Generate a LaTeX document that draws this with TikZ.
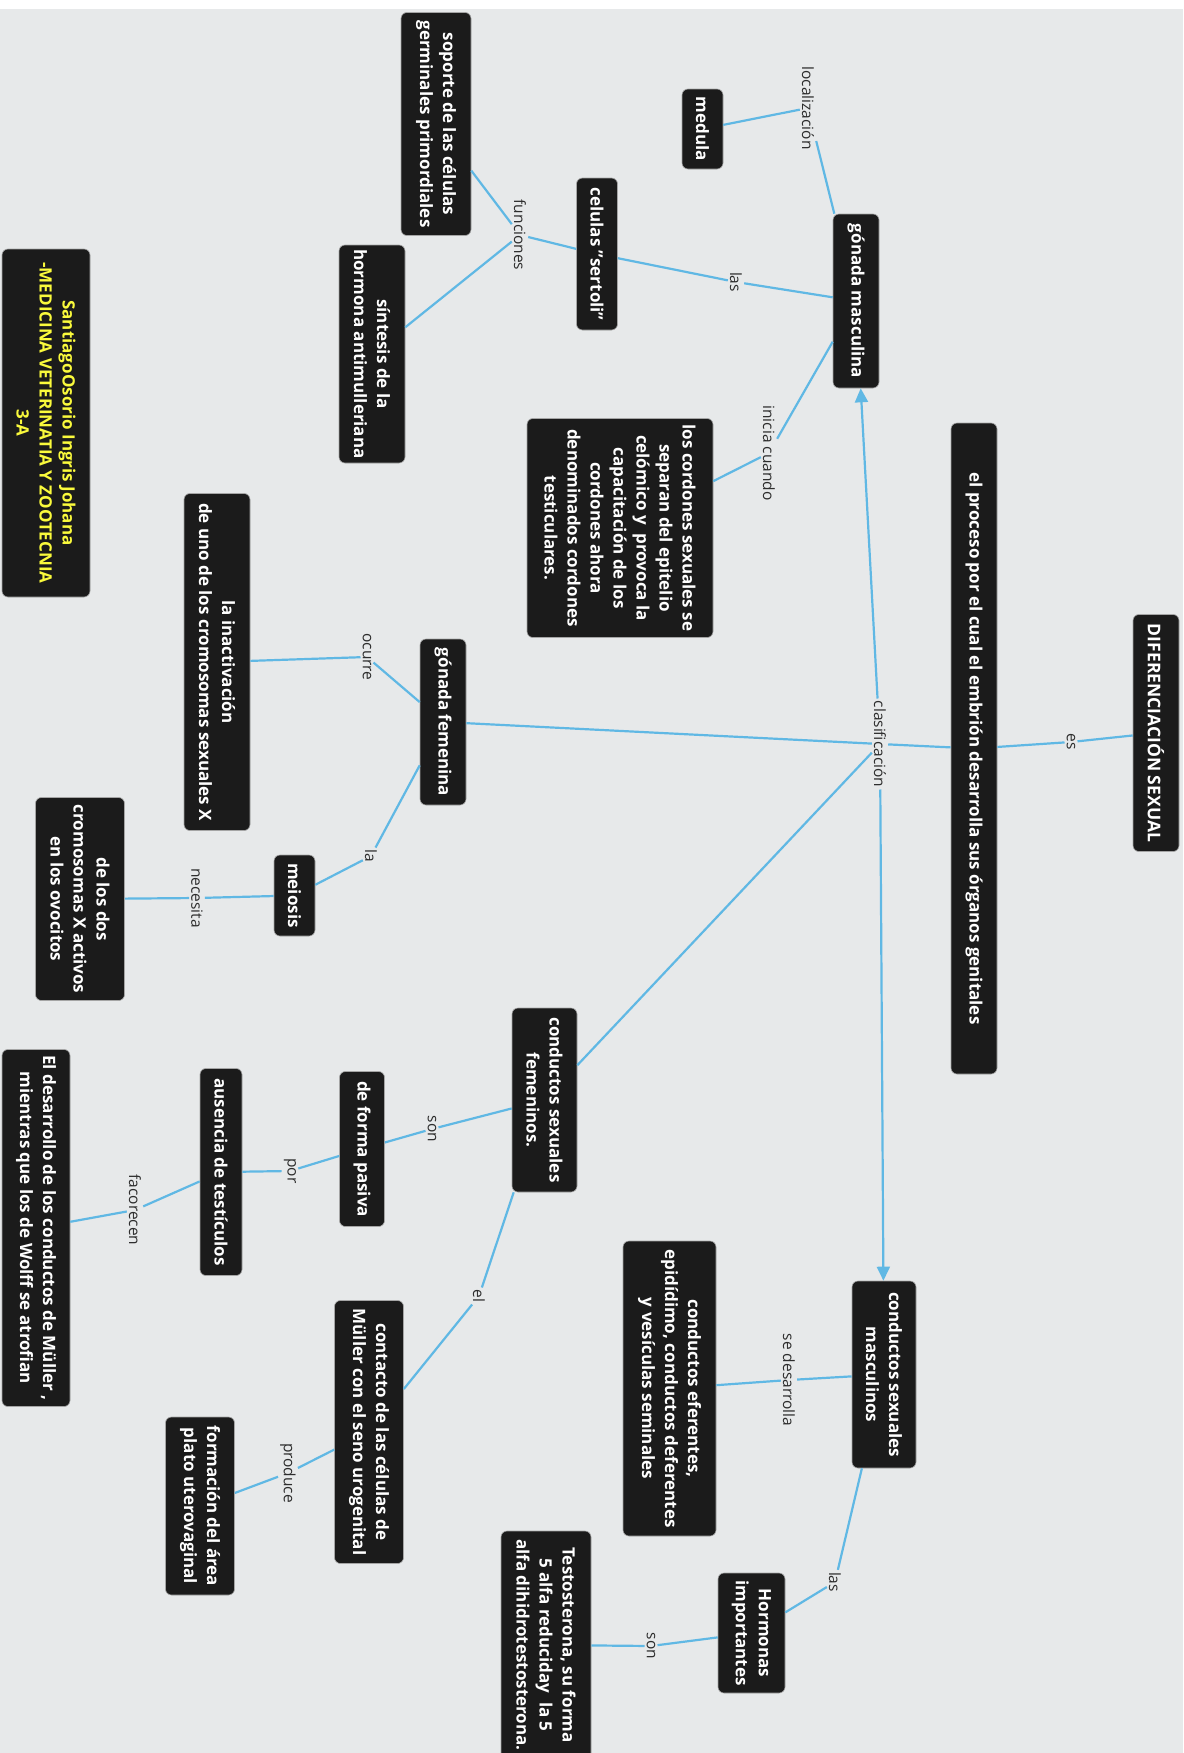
\documentclass[tikz,border=0pt]{standalone}
\usepackage{fontspec}
\setmainfont{Open Sans}
\usetikzlibrary{arrows.meta}
\definecolor{bgc}{RGB}{231,233,234}
\definecolor{nodeblk}{RGB}{27,27,27}
\definecolor{nodeedge}{RGB}{165,165,165}
\definecolor{lineblue}{RGB}{96,184,228}
\definecolor{authyellow}{RGB}{250,250,60}
\definecolor{labtext}{RGB}{45,45,45}
\newcommand{\mynodefont}{\fontsize{17}{23}\selectfont\bfseries}
\newcommand{\mylabfont}{\fontsize{15.5}{18}\selectfont}
\begin{document}
\begin{tikzpicture}[x=1pt,y=-1pt,
  box/.style={rotate=-90, fill=nodeblk, draw=nodeedge, line width=0.6pt, rounded corners=6pt,
    text=white, font=\mynodefont, align=center, inner xsep=4pt, inner ysep=3pt},
  lab/.style={rotate=-90, fill=bgc, text=labtext, font=\mylabfont, inner sep=2pt},
  ln/.style={draw=lineblue, line width=2.2pt},
  arr/.style={ln, -{Triangle[length=14pt,width=13pt]}}]
\useasboundingbox (0,0) rectangle (1183,1753);
\fill[white] (0,0) rectangle (1183,1753);
\fill[bgc] (0,9) rectangle (1183,1753);

% concept nodes
\node[box, minimum width=237pt, minimum height=46pt, font=\fontsize{17.5}{23}\selectfont\bfseries] (dif) at (1156,733) {DIFERENCIACIÓN SEXUAL};
\node[box, minimum width=651pt, minimum height=46pt] (proc) at (974,748.5) {el proceso por el cual el embrión desarrolla sus órganos genitales};
\node[box, minimum width=174pt, minimum height=46pt] (gm) at (856,301) {gónada masculina};
\node[box, minimum width=80pt, minimum height=41pt] (med) at (702.5,129) {medula};
\node[box, minimum width=152pt, minimum height=41pt] (ser) at (597,254) {celulas "sertoli"};
\node[box, minimum width=223pt, minimum height=70pt] (sop) at (436,124) {soporte de las células\\germinales primordiales};
\node[box, minimum width=218pt, minimum height=66pt] (sin) at (372,354) {síntesis de la\\hormona antimulleriana};
\node[box, minimum width=219pt, minimum height=186pt] (cor) at (620,528) {los cordones sexuales se\\separan del epitelio\\celómico y\ \ provoca la\\capacitación de los\\cordones ahora\\denominados cordones\\testiculares.};
\node[box, minimum width=166pt, minimum height=46pt] (gf) at (443,722) {gónada femenina};
\node[box, minimum width=337pt, minimum height=66pt] (ina) at (217,662) {la inactivación\\de uno de los cromosomas sexuales X};
\node[box, minimum width=81pt, minimum height=41pt] (mei) at (294.5,895.5) {meiosis};
\node[box, minimum width=203pt, minimum height=89pt] (dos) at (80,899) {de los dos\\cromosomas X activos\\en los ovocitos};
\node[box, minimum width=184pt, minimum height=65pt] (fem) at (544.5,1100) {conductos sexuales\\femeninos.};
\node[box, minimum width=155pt, minimum height=45pt] (pas) at (362,1149) {de forma pasiva};
\node[box, minimum width=207pt, minimum height=42pt] (aus) at (221,1172) {ausencia de testículos};
\node[box, minimum width=357pt, minimum height=68pt] (des) at (36,1228) {El desarrollo de los conductos de Müller ,\\mientras que los de Wolff se atrofian};
\node[box, minimum width=263pt, minimum height=69pt] (con) at (369,1432) {contacto de las células de\\Müller con el seno urogenital};
\node[box, minimum width=178pt, minimum height=69pt] (for) at (200,1506) {formación del área\\plato uterovaginal};
\node[box, minimum width=187pt, minimum height=64pt] (mas) at (884,1374.5) {conductos sexuales\\masculinos};
\node[box, minimum width=295pt, minimum height=93pt] (efe) at (669.5,1388.5) {conductos eferentes,\\epidídimo, conductos deferentes\\y vesículas seminales};
\node[box, minimum width=120pt, minimum height=67pt] (hor) at (751.5,1633) {Hormonas\\importantes};
\node[box, minimum width=228pt, minimum height=90pt] (tes) at (546,1645) {Testosterona, su forma\\5 alfa reduciday\ \ la 5\\alfa dihidrotestosterona.};
\node[box, minimum width=348pt, minimum height=88pt, text=authyellow] (aut) at (46,423) {SantiagoOsorio Ingris Johana\\-MEDICINA VETERINATIA Y ZOOTECNIA\\3-A};

% linking phrases
\node[lab] (les) at (1071,742) {es};
\node[lab] (lcla) at (880,744) {clasificación};
\node[lab] (lloc) at (808,108) {localización};
\node[lab] (llasa) at (736,282) {las};
\node[lab] (lini) at (769,453) {inicia cuando};
\node[lab] (lfun) at (520,235) {funciones};
\node[lab] (locu) at (367,657) {ocurre};
\node[lab] (lla) at (371,856) {la};
\node[lab] (lnec) at (197,898) {necesita};
\node[lab] (lsona) at (432,1129) {son};
\node[lab] (lpor) at (290,1171) {por};
\node[lab] (lfac) at (135,1210) {facorecen};
\node[lab] (lel) at (479,1296) {el};
\node[lab] (lpro) at (288,1473) {produce};
\node[lab] (lsed) at (789,1380) {se desarrolla};
\node[lab] (llasb) at (835,1582) {las};
\node[lab] (lsonb) at (651,1646) {son};

% connectors
\draw[ln] (dif) -- (les);
\draw[ln] (les) -- (proc);
\draw[ln] (proc) -- (lcla);
\draw[arr] (lcla) -- (gm);
\draw[ln] (lcla) -- (gf);
\draw[ln] (lcla) -- (fem);
\draw[arr] (lcla) -- (mas);

\draw[ln] (gm) -- (lloc);
\draw[ln] (lloc) -- (med);
\draw[ln] (gm) -- (llasa);
\draw[ln] (llasa) -- (ser);
\draw[ln] (gm) -- (lini);
\draw[ln] (lini) -- (cor);
\draw[ln] (ser) -- (lfun);
\draw[ln] (lfun) -- (sop);
\draw[ln] (lfun) -- (sin);

\draw[ln] (gf) -- (locu);
\draw[ln] (locu) -- (ina);
\draw[ln] (gf) -- (lla);
\draw[ln] (lla) -- (mei);
\draw[ln] (mei) -- (lnec);
\draw[ln] (lnec) -- (dos);

\draw[ln] (fem) -- (lsona);
\draw[ln] (lsona) -- (pas);
\draw[ln] (pas) -- (lpor);
\draw[ln] (lpor) -- (aus);
\draw[ln] (aus) -- (lfac);
\draw[ln] (lfac) -- (des);
\draw[ln] (fem) -- (lel);
\draw[ln] (lel) -- (con);
\draw[ln] (con) -- (lpro);
\draw[ln] (lpro) -- (for);

\draw[ln] (mas) -- (lsed);
\draw[ln] (lsed) -- (efe);
\draw[ln] (mas) -- (llasb);
\draw[ln] (llasb) -- (hor);
\draw[ln] (hor) -- (lsonb);
\draw[ln] (lsonb) -- (tes);
\end{tikzpicture}
\end{document}
